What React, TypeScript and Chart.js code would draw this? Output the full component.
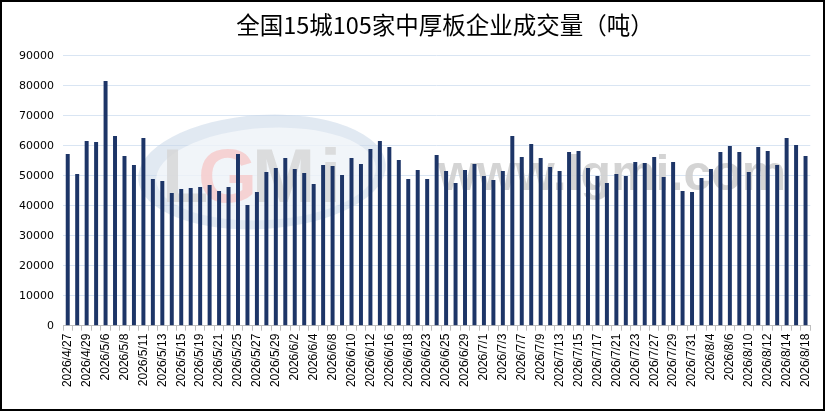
import { Chart, registerables } from 'chart.js';
import { useEffect, useRef } from 'react';

Chart.register(...registerables);

const title = '全国15城105家中厚板企业成交量（吨）';

const dates = [
  '2026/4/27', '2026/4/28', '2026/4/29', '2026/4/30', '2026/5/6', '2026/5/7', '2026/5/8', '2026/5/9',
  '2026/5/11', '2026/5/12', '2026/5/13', '2026/5/14', '2026/5/15', '2026/5/18', '2026/5/19', '2026/5/20',
  '2026/5/21', '2026/5/22', '2026/5/25', '2026/5/26', '2026/5/27', '2026/5/28', '2026/5/29', '2026/6/1',
  '2026/6/2', '2026/6/3', '2026/6/4', '2026/6/5', '2026/6/8', '2026/6/9', '2026/6/10', '2026/6/11',
  '2026/6/12', '2026/6/15', '2026/6/16', '2026/6/17', '2026/6/18', '2026/6/22', '2026/6/23', '2026/6/24',
  '2026/6/25', '2026/6/26', '2026/6/29', '2026/6/30', '2026/7/1', '2026/7/2', '2026/7/3', '2026/7/6',
  '2026/7/7', '2026/7/8', '2026/7/9', '2026/7/10', '2026/7/13', '2026/7/14', '2026/7/15', '2026/7/16',
  '2026/7/17', '2026/7/20', '2026/7/21', '2026/7/22', '2026/7/23', '2026/7/24', '2026/7/27', '2026/7/28',
  '2026/7/29', '2026/7/30', '2026/7/31', '2026/8/3', '2026/8/4', '2026/8/5', '2026/8/6', '2026/8/7',
  '2026/8/10', '2026/8/11', '2026/8/12', '2026/8/13', '2026/8/14', '2026/8/17', '2026/8/18',
];

const volume = [
  57200, 50600, 61600, 61200, 81600, 63200, 56600, 53600,
  62600, 48900, 48200, 44200, 45600, 45900, 46200, 46900,
  44900, 46200, 57200, 40200, 44600, 51200, 52600, 55900,
  52200, 50900, 47200, 53600, 53200, 50200, 55900, 53900,
  58900, 61600, 59600, 55200, 48900, 51900, 48900, 56900,
  51600, 47600, 51900, 53900, 49900, 48600, 51600, 63200,
  56200, 60600, 55900, 52900, 51600, 57900, 58200, 52600,
  49900, 47600, 50600, 49900, 54600, 54200, 56200, 49600,
  54600, 44900, 44600, 49200, 52200, 57900, 59900, 57900,
  51200, 59600, 58200, 53600, 62600, 60200, 56600,
];

const yTicks = [0, 10000, 20000, 30000, 40000, 50000, 60000, 70000, 80000, 90000];

// faint LGMi logo + site address behind the bars
const watermark = {
  id: 'watermark',
  beforeDatasetsDraw(chart: Chart) {
    const ctx = chart.ctx;
    ctx.save();
    ctx.globalAlpha = 0.55;
    ctx.fillStyle = '#c9d7e8';
    ctx.beginPath();
    ctx.ellipse(260, 170, 124, 57, -0.06, 0, Math.PI * 2);
    ctx.fill();
    ctx.fillStyle = '#ffffff';
    ctx.beginPath();
    ctx.ellipse(264, 172, 110, 46, -0.06, 0, Math.PI * 2);
    ctx.fill();
    ctx.globalAlpha = 0.8;
    ctx.font = 'bold 76px "Liberation Sans"';
    ctx.textBaseline = 'alphabetic';
    ctx.fillStyle = '#d6d6d6';
    ctx.fillText('L', 160, 200);
    ctx.fillStyle = '#f6c9c9';
    ctx.fillText('G', 196, 200);
    ctx.fillStyle = '#d6d6d6';
    ctx.fillText('M', 250, 200);
    ctx.fillText('i', 318, 200);
    ctx.globalAlpha = 0.9;
    ctx.font = 'bold 50px "Liberation Sans"';
    ctx.fillStyle = '#cfcfcf';
    ctx.fillText('www.lgmi.com', 436, 188);
    ctx.restore();
  },
};

const App = () => {
  const chartRef = useRef<HTMLCanvasElement>(null);
  const chartInstanceRef = useRef<Chart | null>(null);

  useEffect(() => {
    if (chartRef.current) {
      if (chartInstanceRef.current) chartInstanceRef.current.destroy();
      chartInstanceRef.current = new Chart(chartRef.current, {
        type: 'bar',
        data: {
          labels: dates,
          datasets: [{
            label: '成交量',
            data: volume,
            backgroundColor: '#1d3567',
            categoryPercentage: 1,
            barPercentage: 0.42,
          }],
        },
        options: {
          responsive: true,
          maintainAspectRatio: false,
          animation: false,
          layout: { padding: { left: 0, right: 9.5, top: 53.7, bottom: 0 } },
          plugins: {
            legend: { display: false },
            tooltip: { enabled: false },
            title: { display: false },
          },
          scales: {
            x: {
              afterFit: (s) => { s.height = 83.3; },
              grid: { drawOnChartArea: false, drawTicks: true, tickLength: 5, tickColor: '#bfbfbf', offset: true },
              border: { display: true, color: '#bfbfbf', width: 1 },
              ticks: {
                autoSkip: false,
                minRotation: 90,
                maxRotation: 90,
                padding: 3,
                color: '#000',
                font: { family: '"Liberation Sans"', size: 12 },
                callback: (_v, i) => (i % 2 === 0 ? dates[i] : ''),
              },
            },
            y: {
              min: 0,
              max: 90000,
              afterFit: (s) => { s.width = 61; },
              afterBuildTicks: (s) => { s.ticks = yTicks.map((v) => ({ value: v })); },
              grid: { color: '#d9e5f3', drawTicks: false },
              border: { display: false },
              ticks: {
                padding: 9,
                color: '#000',
                font: { family: '"DejaVu Sans"', size: 11 },
                callback: (v) => String(v),
              },
            },
          },
        },
        plugins: [watermark],
      });
    }

    return () => {
      if (chartInstanceRef.current) chartInstanceRef.current.destroy();
    };
  }, []);

  return (
    <div style={{ position: 'fixed', left: 0, top: 0, width: 825, height: 411, border: '2px solid #000', boxSizing: 'border-box', background: '#fff', overflow: 'hidden' }}>
      <div style={{ position: 'relative', width: '100%', height: '100%' }}>
        <canvas ref={chartRef} />
        <div style={{ position: 'absolute', left: 43, width: 800, top: 8, textAlign: 'center', fontFamily: '"Noto Sans CJK SC"', fontSize: 23.5, lineHeight: '28px', color: '#000', whiteSpace: 'nowrap' }}>
          {title}
        </div>
      </div>
    </div>
  );
};

export default App;
